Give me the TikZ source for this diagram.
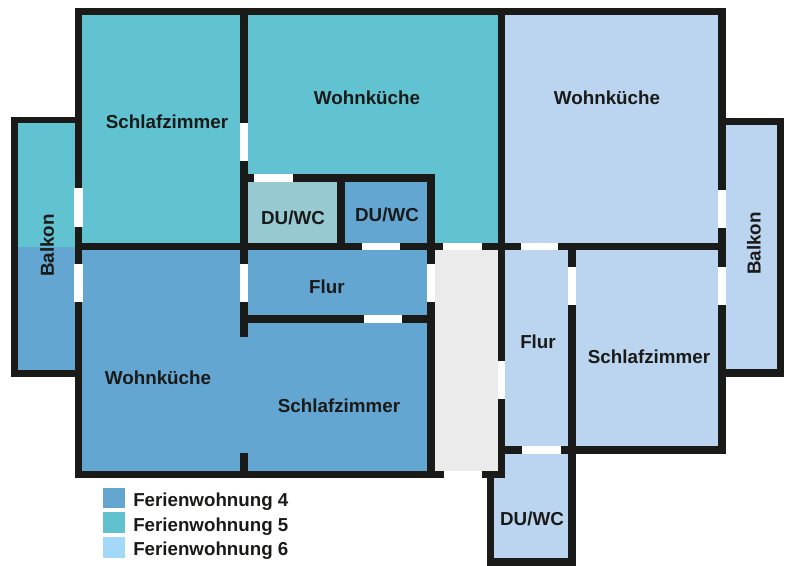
\documentclass[tikz,border=0pt]{standalone}
\usepackage{fontspec}
\setmainfont{Liberation Sans}
\definecolor{wallc}{HTML}{1A1A18}
\definecolor{teal5}{HTML}{61C3D2}
\definecolor{blue4}{HTML}{63A6D2}
\definecolor{light6}{HTML}{BBD5F0}
\definecolor{bath}{HTML}{97C9D3}
\definecolor{hall}{HTML}{EBEBEB}
\definecolor{leg4}{HTML}{64A5D0}
\definecolor{leg5}{HTML}{5FC2CE}
\definecolor{leg6}{HTML}{A3D8F8}
\tikzset{
  wall/.style={fill=wallc,draw=none},
  gapw/.style={fill=white,draw=none},
  roomlabel/.style={font=\fontsize{14.1pt}{15pt}\selectfont\bfseries,text=wallc,inner sep=0pt,text height=11.4pt,text depth=0pt},
  leglabel/.style={font=\fontsize{14.05pt}{15pt}\selectfont\bfseries,text=wallc,inner sep=0pt,anchor=west,text height=11.4pt,text depth=0pt},
}
\newcommand{\R}[5]{\fill[#1] (#2,#3) rectangle (#4,#5);}
\begin{document}
\begin{tikzpicture}[x=0.75pt,y=-0.75pt]
\useasboundingbox (0,0) rectangle (800,566);
% rooms
\R{teal5}{80}{14}{242}{245}
\R{teal5}{246}{14}{500}{245}
\R{teal5}{16}{121}{77}{247}
\R{blue4}{16}{247}{77}{372}
\R{blue4}{80}{248}{430}{473}
\R{bath}{248}{182}{337}{244}
\R{blue4}{345}{182}{428}{244}
\R{light6}{503}{14}{720}{245}
\R{light6}{724}{123}{779}{371}
\R{light6}{503}{248}{570}{448}
\R{light6}{574}{248}{720}{448}
\R{light6}{492}{452}{570}{560}
\R{hall}{434}{250}{499}{471}
% outer and long walls
\R{wall}{74.5}{8}{726}{15}
\R{wall}{74.5}{8}{82}{478}
\R{wall}{74.5}{471}{444}{478}
\R{wall}{482}{471}{505}{478}
\R{wall}{498}{8}{505}{478}
\R{wall}{718}{8}{726}{454}
\R{wall}{75}{243}{726}{250}
% balconies
\R{wall}{11}{117}{82}{123}
\R{wall}{11}{117}{18}{377}
\R{wall}{11}{370}{82}{377}
\R{wall}{718}{118}{784}{125}
\R{wall}{777}{118}{784}{377}
\R{wall}{718}{369}{784}{377}
% inner left
\R{wall}{240}{8}{248}{337}
\R{wall}{240}{453}{248}{471}
\R{wall}{248}{174}{434}{182}
\R{wall}{337}{174}{345}{250}
\R{wall}{427}{174}{435}{478}
\R{wall}{248}{315}{427}{323}
% inner right
\R{wall}{568}{243}{576}{565.5}
\R{wall}{505}{446}{726}{454}
\R{wall}{487}{471}{494}{565.5}
\R{wall}{487}{558}{576}{565.5}
% door openings
\R{gapw}{74}{188}{83}{227}
\R{gapw}{74}{264}{83}{302}
\R{gapw}{240}{123}{248}{161}
\R{gapw}{240}{264}{248}{302}
\R{gapw}{254}{174}{293}{182}
\R{gapw}{362}{243}{400}{250}
\R{gapw}{443}{243}{482}{250}
\R{gapw}{427}{264}{435}{302}
\R{gapw}{364}{315}{402}{323}
\R{gapw}{444}{471}{482}{478}
\R{gapw}{521}{243}{558}{250}
\R{gapw}{568}{267}{576}{305}
\R{gapw}{498}{361}{505}{399}
\R{gapw}{522}{446}{561}{454}
\R{gapw}{718}{190}{726}{228}
\R{gapw}{718}{267}{726}{305}
% legend
\R{leg4}{103}{488}{125}{508}
\R{leg5}{103}{512}{125}{533}
\R{leg6}{103}{537}{125}{558}
% labels
\node[roomlabel] (sz5) at (167,121) {Schlafzimmer};
\node[roomlabel] (wk5) at (367,97) {Wohnküche};
\node[roomlabel] (wk6) at (607,97) {Wohnküche};
\node[roomlabel] (bath5) at (293,217) {DU/WC};
\node[roomlabel] (bath4) at (387,214) {DU/WC};
\node[roomlabel] (flur4) at (327,286) {Flur};
\node[roomlabel] (wk4) at (158,377) {Wohnküche};
\node[roomlabel] (sz4) at (339,405) {Schlafzimmer};
\node[roomlabel,rotate=90] (bk45) at (46.3,245.5) {Balkon};
\node[roomlabel,rotate=90] (bk6) at (753,243.5) {Balkon};
\node[roomlabel] (flur6) at (538,341) {Flur};
\node[roomlabel] (sz6) at (649,356) {Schlafzimmer};
\node[roomlabel] (bath6) at (532,518) {DU/WC};
\node[leglabel] (l4) at (133,499) {Ferienwohnung 4};
\node[leglabel] (l5) at (133,524) {Ferienwohnung 5};
\node[leglabel] (l6) at (133,548) {Ferienwohnung 6};
\end{tikzpicture}
\end{document}
